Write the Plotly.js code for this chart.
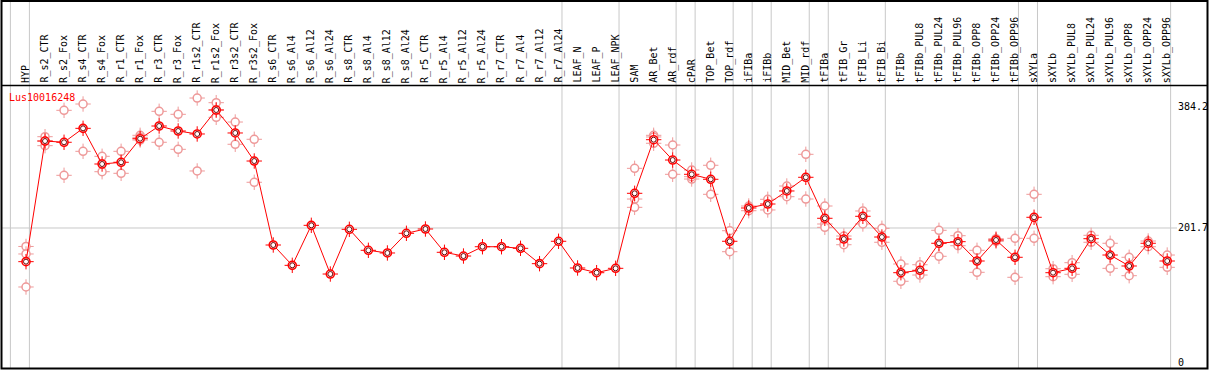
<!DOCTYPE html>
<html>
<head>
<meta charset="utf-8">
<script src="https://cdn.plot.ly/plotly-3.0.1.min.js"></script>
<style>html,body{margin:0;padding:0;background:#fff;}#chart{width:1209px;height:370px;}</style>
</head>
<body>
<div id="chart"></div>
<script>
const geneName = 'Lus10016248';
const categories = ['HYP','R_s2_CTR','R_s2_Fox','R_s4_CTR','R_s4_Fox','R_r1_CTR','R_r1_Fox','R_r3_CTR','R_r3_Fox','R_r1s2_CTR','R_r1s2_Fox','R_r3s2_CTR','R_r3s2_Fox','R_s6_CTR','R_s6_Al4','R_s6_Al12','R_s6_Al24','R_s8_CTR','R_s8_Al4','R_s8_Al12','R_s8_Al24','R_r5_CTR','R_r5_Al4','R_r5_Al12','R_r5_Al24','R_r7_CTR','R_r7_Al4','R_r7_Al12','R_r7_Al24','LEAF_N','LEAF_P','LEAF_NPK','SAM','AR_Bet','AR_rdf','cPAR','TOP_Bet','TOP_rdf','iFIBa','iFIBb','MID_Bet','MID_rdf','tFIBa','tFIB_Gr','tFIB_Li','tFIB_Bi','tFIBb','tFIBb_PUL8','tFIBb_PUL24','tFIBb_PUL96','tFIBb_OPP8','tFIBb_OPP24','tFIBb_OPP96','sXYLa','sXYLb','sXYLb_PUL8','sXYLb_PUL24','sXYLb_PUL96','sXYLb_OPP8','sXYLb_OPP24','sXYLb_OPP96'];
const meanValues = [151.0,332.6,330.7,351.7,298.0,300.6,336.1,355.2,347.7,343.2,379.3,344.7,302.5,176.1,145.5,205.7,132.4,199.7,168.1,164.1,193.7,200.2,165.1,159.5,173.5,173.5,171.1,148.0,181.7,141.5,134.4,141.0,253.9,334.6,304.0,282.5,275.0,181.7,231.8,237.8,257.4,278.0,216.3,185.1,219.3,188.1,134.4,138.0,178.7,181.1,152.0,183.6,157.6,217.8,134.4,141.0,185.6,161.0,144.5,178.7,152.0];
const rep1 = [173.9,339.1,378.8,388.3,309.6,317.1,341.2,377.3,372.8,397.3,390.3,361.2,335.2,null,null,null,null,null,null,null,null,null,null,null,null,null,null,null,null,null,null,null,291.5,341.2,326.6,289.0,296.1,197.6,234.8,244.9,264.9,312.6,234.8,189.6,227.3,201.2,147.5,146.4,198.2,190.1,168.1,185.6,186.2,252.4,140.4,149.5,190.7,178.7,157.6,182.1,161.0];
const rep2 = [162.6,325.6,281.0,317.1,286.4,284.0,338.2,330.7,320.1,287.5,368.3,327.7,270.5,null,null,null,null,null,null,null,null,null,null,null,null,null,null,null,null,null,null,null,245.3,329.2,282.5,275.4,252.4,166.0,227.7,228.8,248.8,245.3,207.7,176.5,207.7,180.2,121.5,130.9,159.1,175.0,135.0,183.6,127.5,186.2,128.4,132.0,180.2,141.0,129.9,173.5,142.5];
const rep3 = [112.9,332.6,null,null,null,null,334.1,null,null,null,379.3,null,null,null,null,null,null,null,null,null,null,null,null,null,null,null,null,null,null,null,null,null,232.8,338.7,null,278.9,null,null,null,null,null,null,202.7,null,null,null,null,null,null,null,null,181.6,null,null,null,null,null,null,null,null,null];
const yTickVals = [0, 201.7, 384.2];
const yTickText = ['0', '201.7', '384.2'];
const separatorsAfter = ['HYP','R_r7_Al24','LEAF_NPK','AR_rdf','cPAR','TOP_rdf','iFIBa','iFIBb','MID_rdf','tFIBa','tFIB_Bi','tFIBb_OPP96','sXYLa','sXYLb_OPP96'];

const idx = categories.map((c, i) => i);
const FONT = 'DejaVu Sans Mono, monospace';
const RED = '#ff0000';
const PINK = '#ee9999';

// pixel geometry (plot area 2..1177 x 86..369)
const PL = 2, PR = 1177, PT = 86, PB = 369;
const pw = PR - PL, ph = PB - PT;
const px = v => (v - PL) / pw;
const py = v => (PB - v) / ph;

const traces = [];
[rep1, rep2, rep3].forEach(r => {
  traces.push({x: idx, y: r, type: 'scatter', mode: 'markers', hoverinfo: 'skip', showlegend: false,
    marker: {symbol: 'cross-thin-open', size: 11, color: PINK, line: {color: PINK, width: 1}}});
  traces.push({x: idx, y: r, type: 'scatter', mode: 'markers', showlegend: false,
    marker: {symbol: 'circle', size: 8, color: '#ffffff', line: {color: PINK, width: 1.5}}});
});
traces.push({x: idx, y: meanValues, type: 'scatter', mode: 'markers', hoverinfo: 'skip', showlegend: false,
  marker: {symbol: 'cross-thin-open', size: 11, color: RED, line: {color: RED, width: 1}}});
traces.push({x: idx, y: meanValues, type: 'scatter', mode: 'lines+markers', showlegend: false,
  line: {color: RED, width: 1},
  marker: {symbol: 'circle', size: 8, color: '#ffffff', line: {color: RED, width: 1.6}}});
traces.push({x: idx, y: meanValues, type: 'scatter', mode: 'markers', hoverinfo: 'skip', showlegend: false,
  marker: {symbol: 'circle-open', size: 5, color: '#700000', line: {color: '#700000', width: 1}}});

const shapes = [];
separatorsAfter.forEach(name => {
  const i = categories.indexOf(name);
  shapes.push({type: 'line', xref: 'x', yref: 'paper', x0: i + 0.18, x1: i + 0.18, y0: 0, y1: py(0), line: {color: '#c8c8c8', width: 1}, layer: 'below'});
});
shapes.push({type: 'line', xref: 'x', yref: 'paper', x0: -0.82, x1: -0.82, y0: 0, y1: py(0), line: {color: '#c8c8c8', width: 1}, layer: 'below'});
shapes.push({type: 'line', xref: 'paper', yref: 'y', x0: px(1), x1: 1, y0: yTickVals[1], y1: yTickVals[1], line: {color: '#c8c8c8', width: 1}, layer: 'below'});
shapes.push({type: 'line', xref: 'paper', yref: 'paper', x0: px(1), x1: px(1208), y0: py(85.5), y1: py(85.5), line: {color: '#000', width: 1.5}});
shapes.push({type: 'rect', xref: 'paper', yref: 'paper', x0: px(1.5), x1: px(1207.5), y0: py(368.5), y1: py(1), line: {color: '#000', width: 2}});

const annotations = categories.map((c, i) => ({
  x: i, xref: 'x', y: py(84), yref: 'paper', text: c, showarrow: false,
  textangle: -90, xanchor: 'center', yanchor: 'bottom', borderpad: 0,
  font: {family: FONT, size: 10, color: '#000'}
}));
annotations.push({x: px(8), xref: 'paper', y: py(97), yref: 'paper', text: geneName, showarrow: false,
  xanchor: 'left', yanchor: 'middle', borderpad: 0, font: {family: FONT, size: 10, color: RED}});

const layout = {
  width: 1209, height: 370,
  margin: {l: PL, r: 1209 - PR, t: PT, b: 370 - PB, pad: 0},
  paper_bgcolor: '#fff', plot_bgcolor: '#fff',
  showlegend: false,
  xaxis: {range: [(PL - 26) / 19.02, (PR - 26) / 19.02], showgrid: false, zeroline: false, showticklabels: false, ticks: '', showline: false, fixedrange: true},
  yaxis: {range: [(362 - PB) * 1.5051, (362 - PT) * 1.5051], side: 'right', tickvals: yTickVals, ticktext: yTickText, showgrid: false, zeroline: false, ticks: '', showline: false,
    tickfont: {family: FONT, size: 10, color: '#000'}, fixedrange: true},
  shapes: shapes,
  annotations: annotations
};
Plotly.newPlot('chart', traces, layout, {displayModeBar: false, staticPlot: true});
</script>
</body>
</html>
